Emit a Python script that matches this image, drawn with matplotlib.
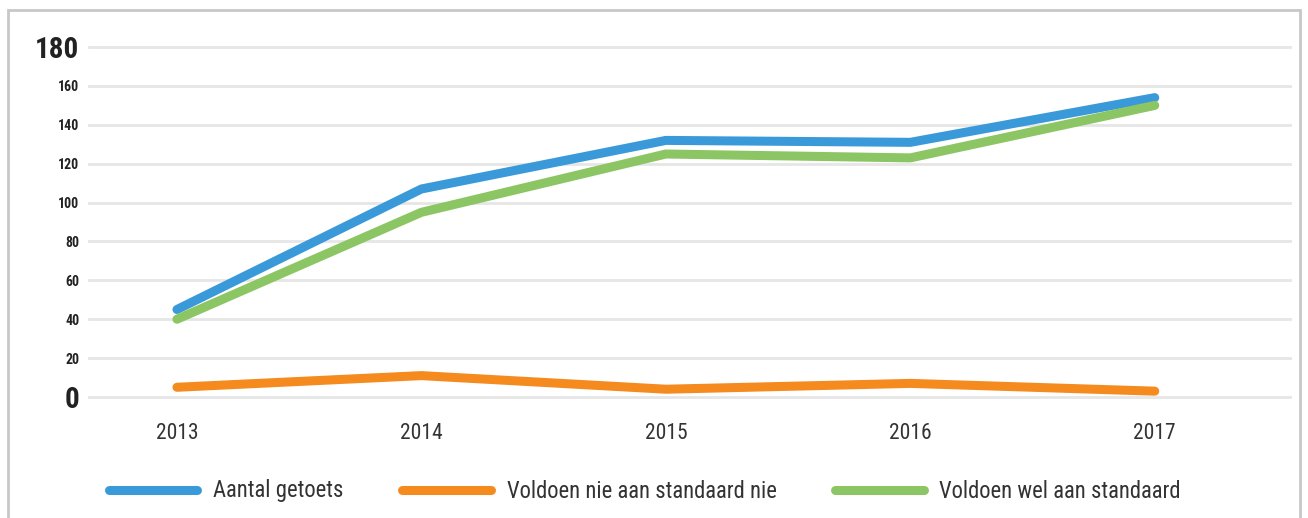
import matplotlib
matplotlib.use("Agg")
import matplotlib.pyplot as plt
from matplotlib import font_manager
from matplotlib.patches import Rectangle

years = ["2013", "2014", "2015", "2016", "2017"]
getoets = [45, 107, 132, 131, 154]
nie_standaard = [5, 11, 4, 7, 3]
wel_standaard = [40, 95, 125, 123, 150]
y_ticks = [0, 20, 40, 60, 80, 100, 120, 140, 160, 180]
labels = ["Aantal getoets", "Voldoen nie aan standaard nie", "Voldoen wel aan standaard"]

# narrowest family that is actually installed
have = {f.name for f in font_manager.fontManager.ttflist}
narrow = [f for f in ['Liberation Sans Narrow', 'Roboto Condensed', 'Open Sans Condensed',
                      'DejaVu Sans Condensed', 'Liberation Sans'] if f in have]
plt.rcParams['font.family'] = narrow[:1] + ['DejaVu Sans']

fig = plt.figure(figsize=(13.08, 5.18), dpi=100)
ax = fig.add_axes([0.068, 0.2336, 0.918, 0.6755])

# light grey frame round the whole chart
fig.patches.append(Rectangle((8 / 1308, -0.05), 1292 / 1308, 1 - 10 / 518 + 0.05,
                             transform=fig.transFigure, fill=False,
                             edgecolor='#c8c8c8', lw=2))

x = range(len(years))
colors = ['#3a9ad9', '#f58a1f', '#8cc563']
for ys, c, lab in zip([getoets, nie_standaard, wel_standaard], colors, labels):
    ax.plot(x, ys, color=c, lw=6.5, solid_capstyle='round', solid_joinstyle='round',
            label=lab, clip_on=False, zorder=3)

ax.set_xlim(-0.36, 4.552)
ax.set_ylim(0, 180)
ax.set_yticks(y_ticks)
ax.set_xticks(list(x))
ax.set_xticklabels(years, fontsize=15.5, color='#333333')
ax.tick_params(axis='x', length=0, pad=19)
ax.tick_params(axis='y', length=0, pad=7)
ax.set_yticklabels([str(v) for v in y_ticks])
for t, v in zip(ax.get_yticklabels(), y_ticks):
    t.set_fontweight('bold')
    t.set_color('#222222')
    if v in (0, 180):
        t.set_fontsize(21)
    else:
        t.set_fontsize(10)

ax.grid(axis='y', color='#e6e6e6', lw=2)
for gl in ax.get_ygridlines():
    gl.set_clip_on(False)
ax.set_axisbelow(True)
for s in ax.spines.values():
    s.set_visible(False)

leg = fig.legend(loc='center left', bbox_to_anchor=(109 / 1308, 1 - 491 / 518), ncol=3,
                 frameon=False, fontsize=16.3, handlelength=3.9, handletextpad=0.7,
                 columnspacing=2.6, borderaxespad=0, borderpad=0)
for t in leg.get_texts():
    t.set_color('#333333')

fig.savefig("out.png", dpi=100)
